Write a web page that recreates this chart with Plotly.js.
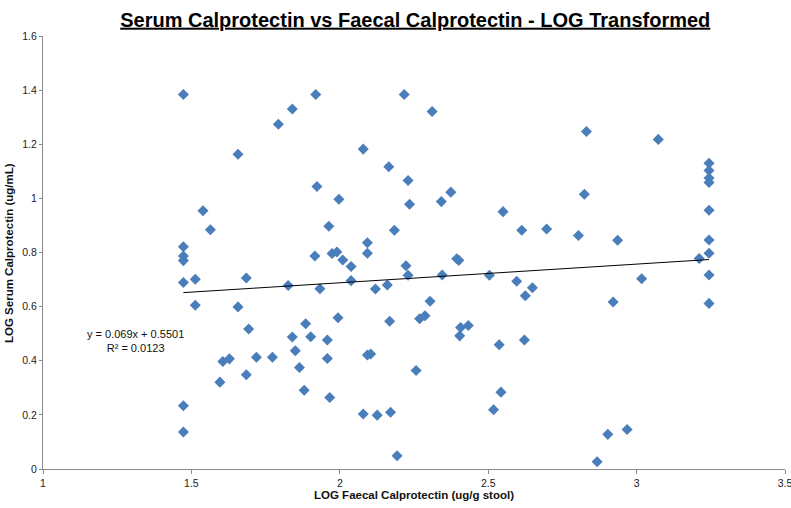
<!DOCTYPE html>
<html>
<head>
<meta charset="utf-8">
<script src="https://cdn.plot.ly/plotly-3.0.1.min.js"></script>
<style>html,body{margin:0;padding:0;background:#fff;}#chart{width:791px;height:508px;}</style>
</head>
<body>
<div id="chart"></div>
<script>
const faecalLog = [1.473,1.840,1.793,1.657,1.539,1.564,1.473,1.473,1.473,1.473,1.473,1.473,
1.919,2.217,2.311,2.079,2.165,2.230,1.923,2.374,1.997,2.235,2.342,1.963,2.093,2.184,2.550,2.613,2.697,
2.831,3.073,3.244,3.244,3.244,3.244,3.244,3.244,2.824,2.804,2.936,3.244,3.211,3.017,3.244,2.921,3.244,
2.903,2.968,2.867,1.826,1.916,1.974,1.990,2.010,2.038,2.093,2.038,1.933,2.120,2.160,2.223,2.230,2.345,
2.394,2.401,2.504,2.596,2.649,2.625,2.304,1.994,1.885,2.168,2.269,2.287,1.840,1.902,1.958,1.850,1.864,
1.958,2.093,2.104,2.404,2.407,2.433,2.537,2.622,2.257,1.880,1.966,2.543,2.518,2.079,2.126,2.171,2.193,
1.513,1.685,1.513,1.657,1.693,1.606,1.628,1.719,1.773,1.596,1.685];
const serumLog = [1.384,1.330,1.274,1.163,0.954,0.884,0.821,0.787,0.770,0.689,0.234,0.137,
1.384,1.384,1.321,1.182,1.117,1.066,1.044,1.023,0.997,0.978,0.988,0.897,0.836,0.882,0.951,0.882,0.887,
1.247,1.218,1.130,1.103,1.075,1.059,0.956,0.846,1.015,0.863,0.845,0.797,0.778,0.703,0.717,0.617,0.612,
0.128,0.146,0.027,0.678,0.787,0.796,0.802,0.772,0.748,0.797,0.696,0.666,0.665,0.680,0.751,0.716,0.717,
0.777,0.771,0.716,0.694,0.670,0.640,0.620,0.559,0.537,0.546,0.555,0.566,0.488,0.489,0.477,0.437,0.375,
0.408,0.421,0.425,0.492,0.523,0.530,0.459,0.477,0.364,0.291,0.264,0.284,0.219,0.203,0.199,0.210,0.049,
0.701,0.706,0.605,0.599,0.517,0.397,0.407,0.413,0.413,0.321,0.348];
const trendSlope = 0.069;
const trendIntercept = 0.5501;
const equationText = "y = 0.069x + 0.5501<br>R² = 0.0123";
const xTicks = [1, 1.5, 2, 2.5, 3, 3.5];
const yTicks = [0, 0.2, 0.4, 0.6, 0.8, 1, 1.2, 1.4, 1.6];

const xMin = Math.min(...faecalLog), xMax = Math.max(...faecalLog);
const trendX = [xMin, xMax];
const trendY = trendX.map(v => trendSlope * v + trendIntercept);

const FONT = '"Liberation Sans", Arial, sans-serif';

const traces = [
  {x: faecalLog, y: serumLog, type: 'scatter', mode: 'markers',
   marker: {symbol: 'diamond', size: 8.5, color: '#4a7ebb', line: {width: 0}}, hoverinfo: 'x+y'},
  {x: trendX, y: trendY, type: 'scatter', mode: 'lines',
   line: {color: '#000', width: 1}, hoverinfo: 'skip'}
];

const layout = {
  width: 791, height: 508,
  margin: {l: 43, r: 6, t: 36, b: 39},
  paper_bgcolor: '#fff', plot_bgcolor: '#fff',
  showlegend: false,
  font: {family: FONT, size: 10.5, color: '#222'},
  title: {text: '<b><u>Serum Calprotectin vs Faecal Calprotectin - LOG Transformed</u></b>',
          font: {family: FONT, size: 20, color: '#000'}, x: 0.525, xanchor: 'center', y: 0.975, yanchor: 'top'},
  xaxis: {range: [1, 3.5], tickvals: xTicks, ticktext: xTicks.map(String),
          showgrid: false, zeroline: false, showline: true, linecolor: '#8c8c8c', linewidth: 1,
          ticks: 'outside', ticklen: 4, tickcolor: '#8c8c8c', tickfont: {size: 10.5, color: '#222'},
          ticklabeloverflow: 'allow',
          title: {text: '<b>LOG Faecal Calprotectin (ug/g stool)</b>', font: {size: 11.5, color: '#111'}, standoff: 3}},
  yaxis: {range: [0, 1.6], tickvals: yTicks, ticktext: yTicks.map(String),
          showgrid: false, zeroline: false, showline: true, linecolor: '#8c8c8c', linewidth: 1,
          ticks: 'outside', ticklen: 3, tickcolor: '#8c8c8c', tickfont: {size: 10.5, color: '#222'},
          ticklabeloverflow: 'allow'},
  annotations: [
    {text: equationText, xref: 'x', yref: 'y', x: 1.31, y: 0.473,
     showarrow: false, align: 'center', font: {size: 11, color: '#111'}},
    {text: '<b>LOG Serum Calprotectin (ug/mL)</b>', xref: 'paper', yref: 'paper', x: -0.0465, y: 0.5,
     xanchor: 'center', yanchor: 'middle', textangle: -90, showarrow: false, font: {size: 11.5, color: '#111'}}
  ]
};

Plotly.newPlot('chart', traces, layout, {displayModeBar: false, staticPlot: true});
</script>
</body>
</html>
